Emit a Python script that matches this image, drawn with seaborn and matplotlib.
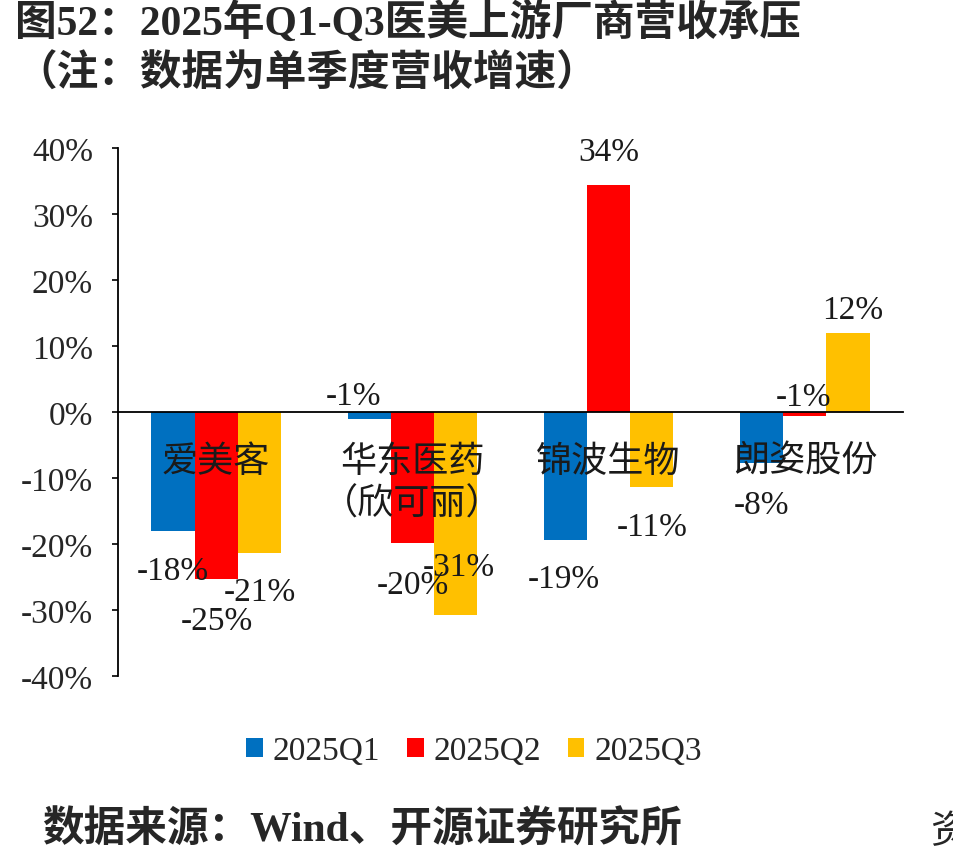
import numpy as np
import pandas as pd
import seaborn as sns
import matplotlib.pyplot as plt

# data (single-quarter revenue growth, %)
companies = ['爱美客', '华东医药\n（欣可丽）', '锦波生物', '朗姿股份']
quarters = ['2025Q1', '2025Q2', '2025Q3']
q1 = [-18.0, -1.0, -19.4, -7.7]
q2 = [-25.3, -19.8, 34.4, -0.6]
q3 = [-21.4, -30.8, -11.4, 12.0]
yticks = [-40, -30, -20, -10, 0, 10, 20, 30, 40]

colors = ['#0070C0', '#FF0000', '#FFC000']

# label offsets (pixels) from the bar end, per quarter / company
label_offsets = [
    [(0, -40), (-16, 23), (-2, -39), (0, -42)],
    [(1, -42), (1, -42), (0, 33), (-1, 19)],
    [(1, -39), (3, 49), (0, -40), (5, 23)],
]

df = pd.DataFrame({
    'company': companies * 3,
    'quarter': [q for q in quarters for _ in companies],
    'value': q1 + q2 + q3,
})

sns.set_theme(style='white')
plt.rcParams['font.family'] = ['Liberation Serif', 'Noto Sans CJK SC']

fig = plt.figure(figsize=(9.54, 8.62), dpi=100)
ax = fig.add_axes([118 / 954, 1 - 677 / 862, 785 / 954, 528 / 862])

sns.barplot(data=df, x='company', y='value', hue='quarter',
            palette=colors, saturation=1, width=0.66, linewidth=0,
            ax=ax, legend=True)

ax.set_xlim(-0.5, 3.5)
ax.set_ylim(-40, 40)
ax.set_xlabel('')
ax.set_ylabel('')

# axes styling
for s in ['top', 'right']:
    ax.spines[s].set_visible(False)
ax.spines['bottom'].set_position(('data', 0))
ax.spines['bottom'].set_color('black')
ax.spines['left'].set_color('black')
ax.spines['bottom'].set_linewidth(1.3)
ax.spines['left'].set_linewidth(1.3)

ax.set_xticks([-0.5, 0.5, 1.5, 2.5, 3.5])
ax.set_xticklabels([])
ax.tick_params(axis='x', direction='in', length=6, width=1.2, color='black')
ax.set_yticks(yticks)
ax.set_yticklabels([f'{v}%' for v in yticks], fontsize=24)
ax.tick_params(axis='y', direction='out', length=4, width=1.2, color='black',
               pad=14, left=True)

# category names inside the plot, below the zero line
for i, name in enumerate(companies):
    for k, line in enumerate(name.split('\n')):
        ax.text(i, -7.4 - 6.5 * k, line, ha='center', va='center',
                fontsize=26, family=['Noto Sans CJK SC'], color='#1a1a1a',
                zorder=5)

# data labels
for j, cont in enumerate(ax.containers):
    for i, bar in enumerate(cont):
        v = bar.get_height()
        x = bar.get_x() + bar.get_width() / 2
        dx, dy = label_offsets[j][i]
        ax.annotate(f'{v:.0f}%', xy=(x, v), xytext=(dx, dy),
                    textcoords='offset pixels', ha='center', va='center',
                    fontsize=24, color='#1a1a1a', zorder=6)

# legend
leg = ax.legend(loc='center', bbox_to_anchor=(474 / 954, 1 - 752 / 862),
                bbox_transform=fig.transFigure, ncol=3, frameon=False,
                fontsize=24, handlelength=0.5, handleheight=0.5,
                handletextpad=0.3, columnspacing=0.8)

# titles and source
fig.text(15 / 954, 1 - 23 / 862, '图52：2025年Q1-Q3医美上游厂商营收承压',
         fontsize=30, fontweight='bold', va='center', ha='left')
fig.text(15 / 954, 1 - 75 / 862, '（注：数据为单季度营收增速）',
         fontsize=30, fontweight='bold', va='center', ha='left')
fig.text(42 / 954, 1 - 830 / 862, '数据来源：Wind、开源证券研究所',
         fontsize=30, fontweight='bold', va='center', ha='left')
fig.text(930 / 954, 1 - 832 / 862, '资', fontsize=28, va='center', ha='left',
         family=['Noto Sans CJK SC'])

fig.savefig('out.png', dpi=100)
